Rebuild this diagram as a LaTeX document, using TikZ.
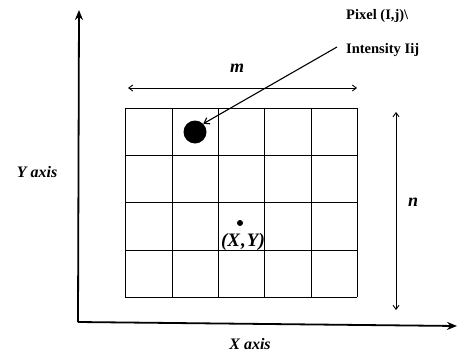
\documentclass[tikz,border=0pt]{standalone}
\usepackage{fontspec}
\setmainfont{Liberation Serif}
\usetikzlibrary{arrows.meta}
\begin{document}
\begin{tikzpicture}[x=1pt,y=-1pt,
  axis/.style={line width=1.8pt,-{Stealth[length=10pt,width=8pt]}},
  dim/.style={line width=0.9pt,{Straight Barb[length=4pt,width=6pt]}-{Straight Barb[length=4pt,width=6pt]}},
  gridline/.style={line width=0.6pt},
  lbl/.style={font=\bfseries\itshape\fontsize{16}{18}\selectfont, inner sep=1pt},
  note/.style={font=\bfseries\fontsize{14.5}{17}\selectfont, inner sep=1pt, anchor=west}]
\useasboundingbox (0,0) rectangle (457,353);
% axes
\coordinate (O) at (78,322);
\coordinate (Ytip) at (79,10);
\coordinate (Xtip) at (457,326);
\draw[axis] (O) -- (Ytip);
\draw[axis] (O) -- (Xtip);
\node[lbl] (ylab) at (37,172) {Y axis};
\node[lbl] (xlab) at (250,344) {X axis};
% grid
\foreach \x in {125,172,218,264,311,357} \draw[gridline] (\x,108) -- (\x,297);
\foreach \y in {108,155,202,250,297} \draw[gridline] (125,\y) -- (357,\y);
% dimension arrows
\coordinate (mL) at (128,88);
\coordinate (mR) at (357,88);
\draw[dim] (mL) -- (mR);
\node[lbl,font=\bfseries\itshape\fontsize{18}{20}\selectfont] (m) at (237,68) {m};
\coordinate (nT) at (396,112);
\coordinate (nB) at (396,310);
\draw[dim] (nT) -- (nB);
\node[lbl,font=\bfseries\itshape\fontsize{18}{20}\selectfont] (n) at (413,202) {n};
% pixel
\node[circle, fill=black, minimum size=23pt, inner sep=0pt] (pix) at (195,132) {};
\node[circle, fill=black, minimum size=6pt, inner sep=0pt] (c) at (240,223) {};
\node[lbl,font=\bfseries\itshape\fontsize{19}{21}\selectfont] (xy) at (243,242) {(X\kern1pt,\kern1pt Y)};
% annotation
\node[note] (t1) at (345,16) {Pixel (I,j)\textbackslash};
\node[note] (t2) at (345,50) {Intensity Iij};
\coordinate (aS) at (337,47);
\draw[line width=1.1pt,-{Straight Barb[length=5pt,width=7pt]}] (aS) -- (pix.north east);
\end{tikzpicture}
\end{document}
